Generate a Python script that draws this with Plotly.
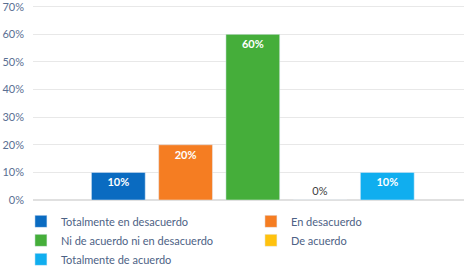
import plotly.graph_objects as go

categories = ["Totalmente en desacuerdo", "En desacuerdo", "Ni de acuerdo ni en desacuerdo",
              "De acuerdo", "Totalmente de acuerdo"]
values = [0.10, 0.20, 0.60, 0.0, 0.10]
labels = ["10%", "20%", "60%", "0%", "10%"]
colors = ["#0A6BC1", "#F57D22", "#45AE3A", "#FFC20E", "#10AEEF"]
y_ticks = [0, 0.1, 0.2, 0.3, 0.4, 0.5, 0.6, 0.7]
y_tick_labels = ["0%", "10%", "20%", "30%", "40%", "50%", "60%", "70%"]

fig = go.Figure()
for name, v, lab, c in zip(categories, values, labels, colors):
    zero = v == 0
    fig.add_trace(go.Bar(
        x=[""], y=[v], name=name, marker_color=c, text=[lab],
        textposition="outside" if zero else "inside",
        insidetextanchor="end",
        textfont=dict(color="#404040" if zero else "white", size=11, family="Lato",
                      weight="normal" if zero else "bold"),
        cliponaxis=False,
    ))

fig.update_layout(
    width=471, height=271,
    margin=dict(l=33, r=7, t=4, b=71, autoexpand=False),
    paper_bgcolor="white", plot_bgcolor="white",
    barmode="group", bargap=0.22, bargroupgap=0.2,
    font=dict(family="Lato", size=11, color="#4d6285"),
    showlegend=True,
    legend=dict(orientation="h", x=-0.028, y=-0.035, xanchor="left", yanchor="top",
                entrywidth=185, entrywidthmode="pixels", traceorder="normal",
                font=dict(size=11, color="#4d6285"), tracegroupgap=0,
                bgcolor="rgba(0,0,0,0)"),
    xaxis=dict(showticklabels=False, showgrid=False, zeroline=False, showline=False,
               range=[-0.51, 0.49]),
    yaxis=dict(range=[0, 0.71], tickvals=y_ticks, ticktext=y_tick_labels,
               showgrid=True, gridcolor="#e8e8e8", gridwidth=1, zeroline=True,
               zerolinecolor="#e0e0e0", ticks="", ticklabelstandoff=8,
               ticklabeloverflow="allow",
               tickfont=dict(size=11, color="#5a6f93")),
)

fig.write_html("out.html", config={"displayModeBar": False},
               post_script="document.body.style.margin='0';")
